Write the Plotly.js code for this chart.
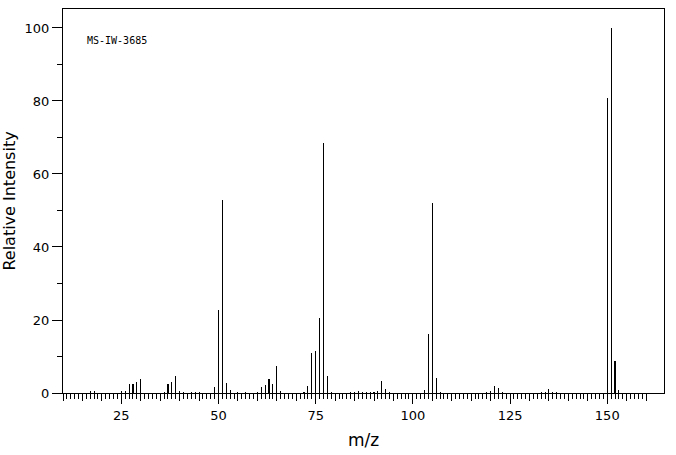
<!DOCTYPE html>
<html>
<head>
<meta charset="utf-8">
<script src="https://cdn.plot.ly/plotly-3.0.1.min.js"></script>
<style>html,body{margin:0;padding:0;background:#fff;}#chart{width:676px;height:455px;}</style>
</head>
<body>
<div id="chart"></div>
<script>
// m/z values and relative intensities
const mz = [17,18,25,26,27,28,29,30,36,37,38,39,40,41,43,44,45,49,50,51,52,53,55,57,60,61,62,63,64,65,66,72,73,74,75,76,77,78,79,84,85,86,87,88,89,90,91,92,93,94,103,104,105,106,107,119,120,121,122,123,133,134,135,136,137,150,151,152,153];
const intensity = [0.5,0.6,0.6,0.6,2.6,2.6,3.1,3.7,0.4,2.6,3.1,4.7,0.5,0.4,0.4,0.4,0.4,1.7,22.8,52.8,2.8,0.9,0.4,0.4,0.4,1.7,2.3,3.7,2.6,7.5,0.6,0.4,2.0,11.0,11.6,20.6,68.6,4.7,0.4,0.4,0.4,0.6,0.4,0.4,0.4,0.4,0.5,3.4,1.2,0.4,0.9,16.3,52.0,4.2,0.4,0.4,0.6,2.0,1.5,0.4,0.4,0.4,1.2,0.4,0.4,80.8,100,8.7,0.9];
const xMajorTicks = [25,50,75,100,125,150];
const xTickLabels = ["25","50","75","100","125","150"];
const yMajorTicks = [0,20,40,60,80,100];
const yMinorTicks = [10,30,50,70,90];
const xMin = 10, xMax = 160;
const sampleId = "MS-IW-3685";

const unitTicks = [], fiveTicks = [];
for (let v = xMin; v <= xMax; v++) { unitTicks.push(v); if (v % 5 === 0) fiveTicks.push(v); }

const range = [10, 164.6];
const font = {family: "DejaVu Sans", size: 13, color: "#000"};

const data = [
  {type: "bar", x: mz, y: intensity, width: 0.28, marker: {color: "#000", line: {width: 0}}, hoverinfo: "x+y"},
  {type: "scatter", x: [xMin], y: [0], xaxis: "x2", mode: "markers", marker: {opacity: 0}, hoverinfo: "skip", showlegend: false}
];

const layout = {
  width: 676, height: 455,
  margin: {l: 63, r: 12, t: 9, b: 62},
  paper_bgcolor: "#fff", plot_bgcolor: "#fff",
  showlegend: false,
  bargap: 0,
  font: font,
  xaxis: {
    range: range, autorange: false,
    tickmode: "array", tickvals: xMajorTicks, ticktext: xTickLabels,
    ticks: "outside", ticklen: 10, tickwidth: 1, tickcolor: "#000",
    minor: {tickmode: "array", tickvals: unitTicks, ticks: "outside", ticklen: 5, tickwidth: 1, tickcolor: "#000", showgrid: false},
    showgrid: false, zeroline: false,
    showline: true, linecolor: "#000", linewidth: 1, mirror: true,
    tickfont: font,
    title: {text: "m/z", font: {family: "DejaVu Sans", size: 17, color: "#000"}, standoff: 12}
  },
  xaxis2: {
    range: range, autorange: false, overlaying: "x", anchor: "y", side: "bottom",
    tickmode: "array", tickvals: fiveTicks, ticks: "outside", ticklen: 7, tickwidth: 1, tickcolor: "#000",
    showticklabels: false, showgrid: false, zeroline: false, showline: false
  },
  yaxis: {
    range: [0, 105.2], autorange: false,
    tickmode: "array", tickvals: yMajorTicks,
    ticks: "outside", ticklen: 10, tickwidth: 1, tickcolor: "#000",
    minor: {tickmode: "array", tickvals: yMinorTicks, ticks: "outside", ticklen: 5, tickwidth: 1, tickcolor: "#000", showgrid: false},
    showgrid: false, zeroline: false,
    showline: true, linecolor: "#000", linewidth: 1, mirror: true,
    tickfont: font,
    title: {text: "Relative Intensity", font: {family: "DejaVu Sans", size: 16, color: "#000"}, standoff: 10}
  },
  annotations: [{
    text: sampleId, xref: "paper", yref: "paper", x: 0.036, y: 0.917,
    xanchor: "left", yanchor: "middle", showarrow: false,
    font: {family: "DejaVu Sans Mono", size: 10, color: "#000"}
  }]
};

Plotly.newPlot("chart", data, layout, {displayModeBar: false, staticPlot: true});
</script>
</body>
</html>
